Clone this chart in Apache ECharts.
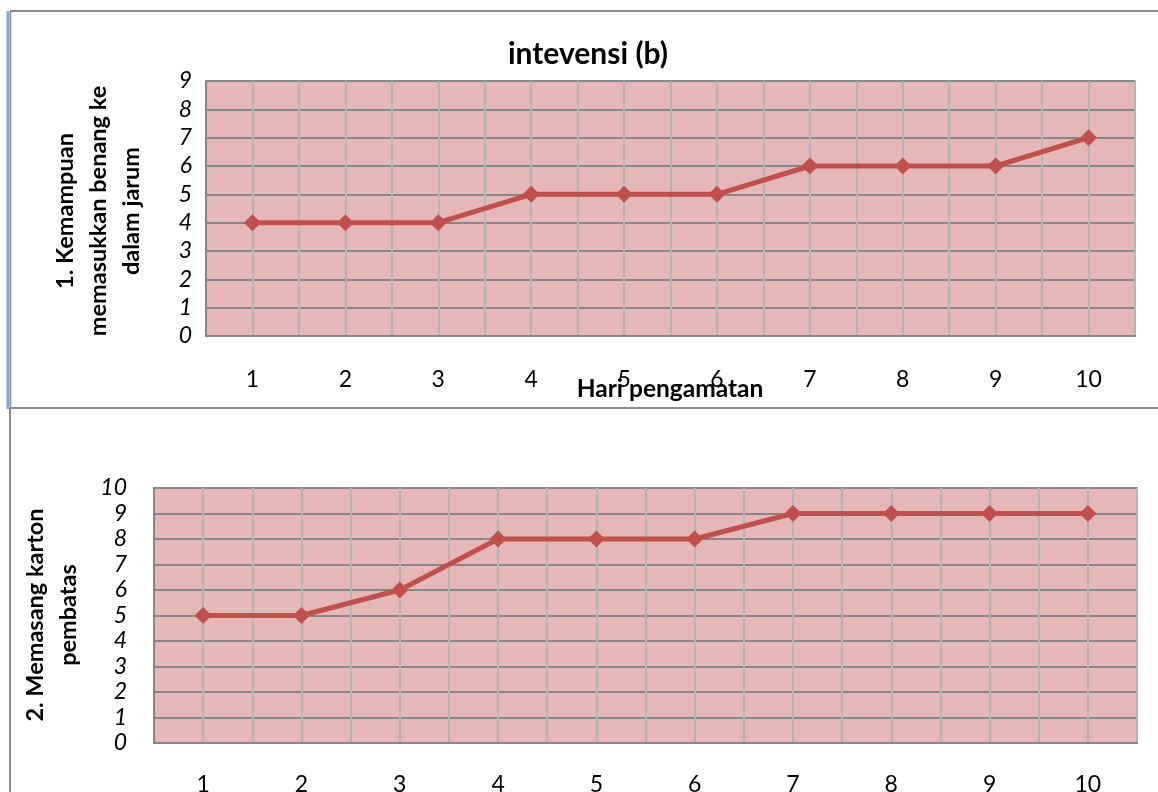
<!DOCTYPE html>
<html>
<head>
<meta charset="utf-8">
<script src="https://cdn.jsdelivr.net/npm/echarts@6/dist/echarts.min.js"></script>
<style>
  html, body { margin: 0; padding: 0; background: #fff; }
  #chart { width: 1158px; height: 792px; }
</style>
</head>
<body>
<div id="chart"></div>
<script>
// Observation days (shared by both panels)
const days = ['1', '2', '3', '4', '5', '6', '7', '8', '9', '10'];

// Panel 1: ability to thread the needle
const threadingScores = [4, 4, 4, 5, 5, 5, 6, 6, 6, 7];
// Panel 2: fitting the cardboard divider
const dividerScores = [5, 5, 6, 8, 8, 8, 9, 9, 9, 9];

const chartTitle = 'intevensi (b)';
const xTitle = 'Hari pengamatan';
const yTitleTop = '1. Kemampuan\nmemasukkan benang ke\ndalam jarum';
const yTitleBottom = '2. Memasang karton\npembatas';

const FONT = 'Lato, "Open Sans", sans-serif';
const LINE_RED = '#c0504d';
const PLOT_BG = '#e5b8b7';

const toPoints = vals => days.map((d, i) => [i + 1, vals[i]]);

function xAxisFor(gridIndex, margin) {
  return {
    type: 'value', gridIndex,
    min: 0.5, max: 10.5, interval: 0.5,
    axisLine: { show: true, lineStyle: { color: '#868686', width: 2 } },
    axisTick: { show: false },
    axisLabel: {
      margin, color: '#000', fontFamily: FONT, fontSize: 23,
      showMinLabel: false, showMaxLabel: false,
      formatter: v => Number.isInteger(v) ? days[v - 1] : ''
    },
    splitLine: { show: true, lineStyle: { color: '#b4b4b4', width: 2 } }
  };
}

function yAxisFor(gridIndex, max, margin) {
  return {
    type: 'value', gridIndex,
    min: 0, max, interval: 1,
    axisLine: { show: true, lineStyle: { color: '#868686', width: 2 } },
    axisTick: { show: false },
    axisLabel: { margin, color: '#000', fontFamily: FONT, fontSize: 23, fontStyle: 'italic' },
    splitLine: { show: true, lineStyle: { color: '#868686', width: 2 } }
  };
}

function lineSeries(idx, vals) {
  return {
    type: 'line', xAxisIndex: idx, yAxisIndex: idx,
    data: toPoints(vals),
    symbol: 'diamond', symbolSize: 17,
    lineStyle: { color: LINE_RED, width: 5 },
    itemStyle: { color: LINE_RED },
    z: 5
  };
}

const chart = echarts.init(document.getElementById('chart'));
chart.setOption({
  animation: false,
  title: {
    text: chartTitle, left: 583, top: 34, textAlign: 'center',
    textStyle: { fontFamily: FONT, fontWeight: 'bold', fontSize: 30, color: '#000' }
  },
  grid: [
    { left: 206, right: 23, top: 81, height: 255, show: true, outerBoundsMode: 'none',
      backgroundColor: PLOT_BG, borderColor: '#dcd6e6', borderWidth: 2 },
    { left: 154, right: 21, top: 488, height: 255, show: true, outerBoundsMode: 'none',
      backgroundColor: PLOT_BG, borderColor: '#d79a9a', borderWidth: 2 }
  ],
  xAxis: [xAxisFor(0, 32), xAxisFor(1, 30)],
  yAxis: [yAxisFor(0, 9, 14), yAxisFor(1, 10, 27)],
  series: [lineSeries(0, threadingScores), lineSeries(1, dividerScores)],
  graphic: [
    // frame lines around the panels
    { type: 'line', shape: { x1: 10, y1: 11, x2: 1158, y2: 11 }, style: { stroke: '#8c8c8c', lineWidth: 2 } },
    { type: 'line', shape: { x1: 8, y1: 11, x2: 8, y2: 409 }, style: { stroke: '#7fa6d9', lineWidth: 3 } },
    { type: 'line', shape: { x1: 10.5, y1: 11, x2: 10.5, y2: 409 }, style: { stroke: '#8c8c8c', lineWidth: 1.5 } },
    { type: 'line', shape: { x1: 10, y1: 408, x2: 1158, y2: 408 }, style: { stroke: '#8c8c8c', lineWidth: 2 } },
    { type: 'line', shape: { x1: 10, y1: 408, x2: 10, y2: 792 }, style: { stroke: '#8c8c8c', lineWidth: 2 } },
    // axis titles
    { type: 'text', x: 670, y: 389, z: 10,
      style: { text: xTitle, font: 'bold 24.5px ' + FONT, fill: '#000', align: 'center', verticalAlign: 'middle' } },
    { type: 'text', x: 98, y: 211, rotation: Math.PI / 2,
      style: { text: yTitleTop, font: 'bold 23.5px ' + FONT, fill: '#000', align: 'center', verticalAlign: 'middle', lineHeight: 33 } },
    { type: 'text', x: 52, y: 615, rotation: Math.PI / 2,
      style: { text: yTitleBottom, font: 'bold 23.5px ' + FONT, fill: '#000', align: 'center', verticalAlign: 'middle', lineHeight: 33 } }
  ]
});
</script>
</body>
</html>
